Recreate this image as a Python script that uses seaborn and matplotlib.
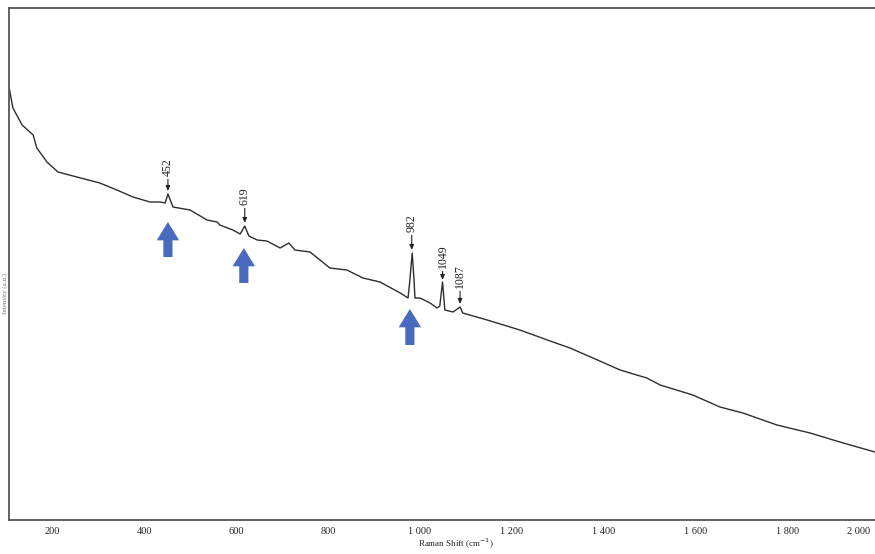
import matplotlib
matplotlib.use("Agg")
import matplotlib.pyplot as plt
import matplotlib.transforms as mtransforms
import seaborn as sns
import pandas as pd

# Raman spectrum (intensity in arbitrary units)
shift = [106.5, 115, 135, 159, 167, 189, 213, 254, 304, 341, 376, 413, 435, 446,
         452, 463, 500, 537, 559, 565, 593, 609, 619, 628, 646, 667, 696, 715, 728,
         761, 804, 841, 876, 913, 957, 974, 978, 983, 987, 989, 1000, 1022, 1037,
         1043, 1049, 1054, 1072, 1087, 1093, 1146, 1217, 1289, 1326, 1376, 1435,
         1493, 1522, 1593, 1652, 1702, 1776, 1848, 1920, 1989, 2050]
intensity = [433, 412, 395, 385, 372, 358, 348, 343, 337, 330, 323, 318, 318, 317,
             326, 313, 310, 300, 298, 295, 290, 286, 294, 284, 280, 279, 272, 277, 270,
             268, 252, 250, 242, 238, 227, 222, 240, 267, 240, 222, 222, 217, 212,
             214, 238, 210, 208, 213, 207, 200, 190, 178, 172, 162, 150,
             142, 135, 125, 113, 107, 95, 87, 77, 68, 62]

# labelled peaks
peak_pos = [452, 619, 982, 1049, 1087]
peak_label_base = [344, 315, 288, 252, 232]
peak_arrow_end = [329, 297, 270, 240, 216]

# blue highlight arrows
hl_pos = [452, 617, 978]
hl_base = [263, 237, 175]
hl_tip = [298, 272, 211]

tick_vals = [200, 400, 600, 800, 1000, 1200, 1400, 1600, 1800, 2000]
tick_text = ["200", "400", "600", "800", "1 000", "1 200", "1 400", "1 600", "1 800", "2 000"]

df = pd.DataFrame({"shift": shift, "intensity": intensity})

sns.set_style("white")
plt.rcParams["font.family"] = ["Liberation Serif", "DejaVu Serif"]

fig = plt.figure(figsize=(8.75, 5.54), dpi=100)
ax = fig.add_axes([9 / 875, 34 / 554, 894 / 875, 512 / 554])

sns.lineplot(data=df, x="shift", y="intensity", ax=ax, color="#2e2e2e", lw=1.0)

ax.set_xlim(106.5, 2050)
ax.set_ylim(0, 512)
ax.set_yticks([])
ax.set_xticks(tick_vals)
ax.set_xticklabels(tick_text, fontsize=7.5)
ax.tick_params(axis="x", length=0, pad=5)

# last tick sits at the right edge of the scan, keep its label inside
last = ax.get_xticklabels()[-1]
last.set_ha("right")
last.set_transform(last.get_transform() +
                   mtransforms.ScaledTranslation(-7 / 72, 0, fig.dpi_scale_trans))

ax.set_xlabel("Raman Shift (cm$^{-1}$)", fontsize=6.5, labelpad=1)
ax.set_ylabel("")
for s in ax.spines.values():
    s.set_color("#555555")
    s.set_linewidth(1.3)

for p, lb, ae in zip(peak_pos, peak_label_base, peak_arrow_end):
    ax.annotate(str(p), xy=(p, ae), xytext=(p, lb), rotation=90,
                ha="center", va="bottom", fontsize=8.5, color="#222222",
                arrowprops=dict(arrowstyle="-|>,head_length=0.35,head_width=0.15",
                                color="#222222", lw=0.8, shrinkA=0, shrinkB=0))

for p, b, t in zip(hl_pos, hl_base, hl_tip):
    ax.annotate("", xy=(p, t), xytext=(p, b),
                arrowprops=dict(arrowstyle="simple,head_length=1.1,head_width=1.35,tail_width=0.55",
                                mutation_scale=12, color="#4a6bbd", lw=0,
                                shrinkA=0, shrinkB=0))

fig.text(0.003, 0.47, "Intensity (a.u.)", rotation=90, fontsize=5,
         color="#777777", va="center", ha="left")

fig.savefig("out.png", dpi=100)
